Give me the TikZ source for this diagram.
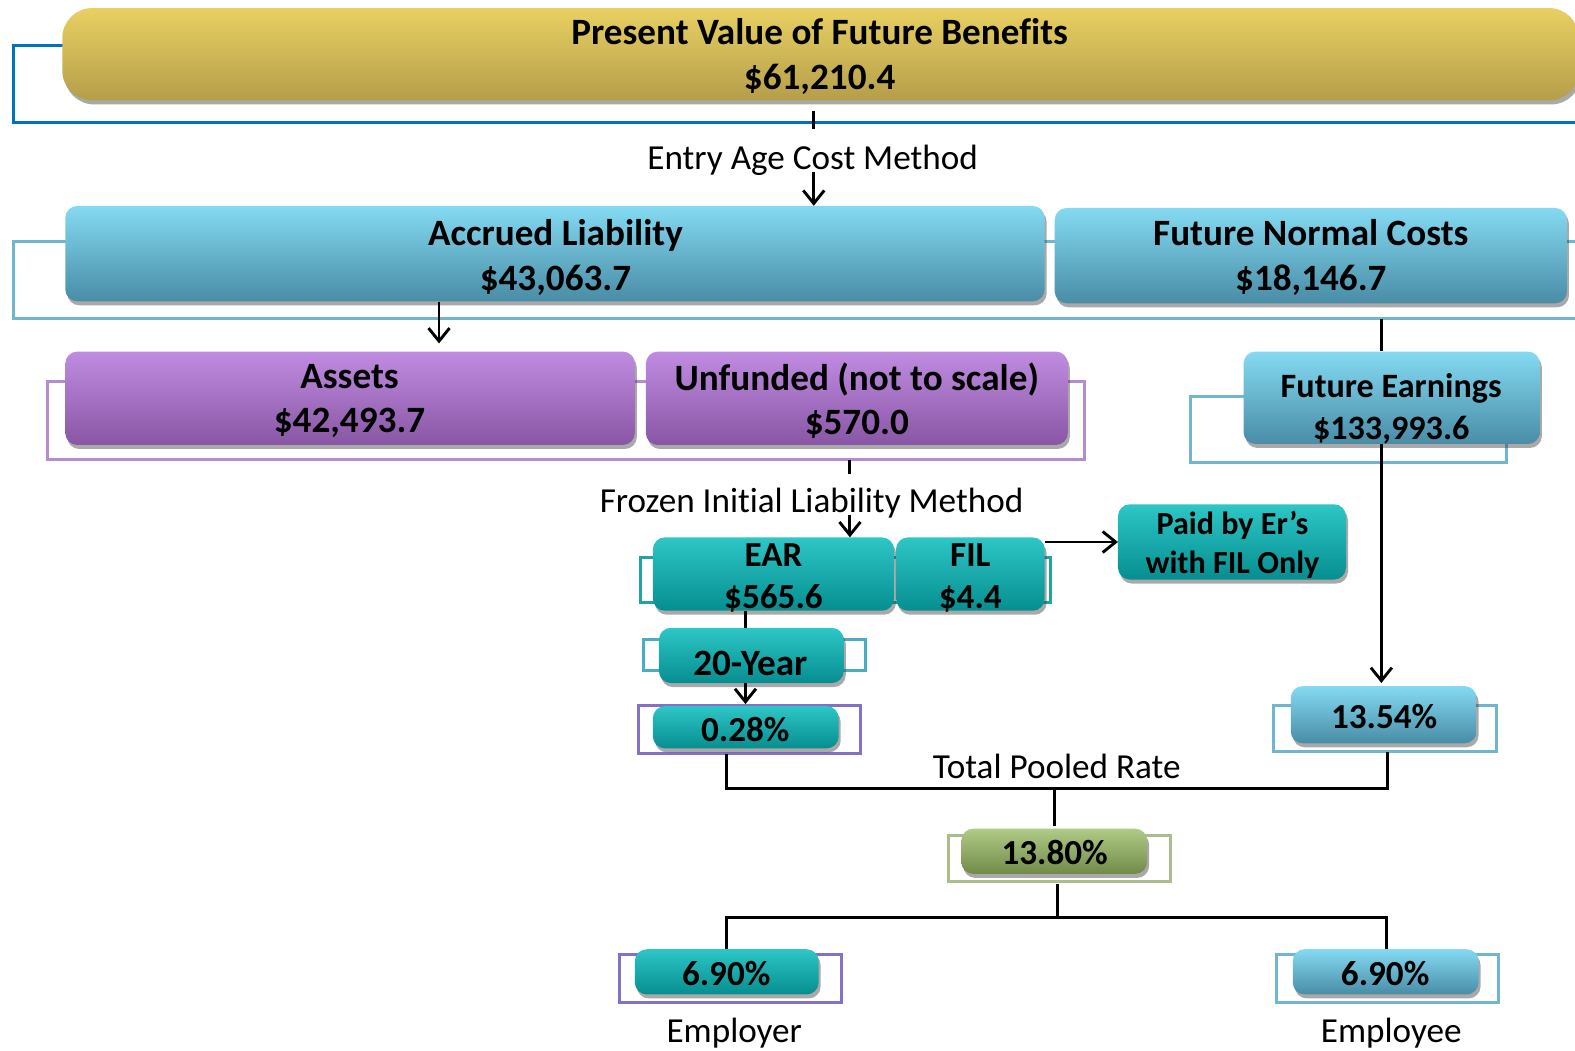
\documentclass[tikz,border=0pt]{standalone}
\usepackage{fontspec}
\setmainfont[Ligatures={NoCommon}]{Carlito}
\usetikzlibrary{shadows,arrows.meta}
\definecolor{goldA}{HTML}{E8D062}
\definecolor{goldM}{HTML}{D6BD57}
\definecolor{goldB}{HTML}{B59E4A}
\definecolor{blueA}{HTML}{84DAF2}
\definecolor{blueM}{HTML}{5EB4D3}
\definecolor{blueB}{HTML}{498CA6}
\definecolor{purA}{HTML}{C08CE2}
\definecolor{purM}{HTML}{A56EC6}
\definecolor{purB}{HTML}{8856A4}
\definecolor{tealA}{HTML}{2EC6C6}
\definecolor{tealM}{HTML}{0AA6A6}
\definecolor{tealB}{HTML}{068E90}
\definecolor{grnA}{HTML}{B0CB86}
\definecolor{grnM}{HTML}{97B16B}
\definecolor{grnB}{HTML}{718A49}
\definecolor{brkDark}{HTML}{0070C0}
\definecolor{brkLight}{HTML}{70B6D0}
\definecolor{brkSky}{HTML}{4BACC6}
\definecolor{brkPur}{HTML}{B58CCF}
\definecolor{brkTeal}{HTML}{1EA4A4}
\definecolor{brkViolet}{HTML}{8470C8}
\definecolor{brkGrn}{HTML}{A8BF8C}
\tikzset{
  bx/.style={rounded corners=12pt, align=center, inner sep=0pt,
    drop shadow={shadow xshift=2pt, shadow yshift=-4pt, opacity=0.45, fill=black!75}},
  goldbx/.style={bx, top color=goldA, middle color=goldM, bottom color=goldB, rounded corners=30pt},
  bluebx/.style={bx, top color=blueA, middle color=blueM, bottom color=blueB},
  purbx/.style={bx, top color=purA, middle color=purM, bottom color=purB},
  tealbx/.style={bx, top color=tealA, middle color=tealM, bottom color=tealB},
  grnbx/.style={bx, top color=grnA, middle color=grnM, bottom color=grnB},
  txt/.style={align=center, inner sep=0pt},
  brk/.style={line width=3pt},
  con/.style={line width=2.9pt, black},
  arr/.style={con, -{Straight Barb[length=13pt,width=21pt]}},
  lbl/.style={font=\fontsize{35}{40}\selectfont, inner sep=0pt},
}
\begin{document}
\begin{tikzpicture}[x=1pt,y=-1pt,scale=1.00446,transform shape]
\useasboundingbox (0,0) rectangle (1568,1046);
% brackets
\draw[brk, brkDark] (13,45) rectangle (1590,122);
\draw[brk, brkLight] (13,240) rectangle (1590,317);
\draw[brk, brkPur] (47,380) rectangle (1080,457);
\draw[brk, brkLight] (1185,395) rectangle (1500,460);
\draw[brk, brkTeal] (638,555) rectangle (1046,600);
\draw[brk, brkSky] (641,637) rectangle (862,668);
\draw[brk, brkViolet] (636,702) rectangle (857,750);
\draw[brk, brkLight] (1268,702) rectangle (1490,748);
\draw[brk, brkGrn] (944,832) rectangle (1165,878);
\draw[brk, brkViolet] (617,950) rectangle (838,998);
\draw[brk, brkLight] (1271,950) rectangle (1492,998);
% boxes
\node[goldbx, minimum width=1510pt, minimum height=92pt] (pvfb) at (817,54) {};
\node[txt, font=\bfseries\fontsize{37}{45}\selectfont] (pvfb_t) at (816,56) {Present Value of Future Benefits\\\$61,210.4};
\node[bluebx, minimum width=975pt, minimum height=95pt] (al) at (552.5,252.5) {};
\node[txt, font=\bfseries\fontsize{37}{45}\selectfont] (al_t) at (553,256) {Accrued Liability\\\$43,063.7};
\node[bluebx, minimum width=510pt, minimum height=95pt] (fnc) at (1305,254.5) {};
\node[txt, font=\bfseries\fontsize{37}{45}\selectfont] (fnc_t) at (1305,256) {Future Normal Costs\\\$18,146.7};
\node[purbx, minimum width=567pt, minimum height=93pt] (assets) at (348.5,396.5) {};
\node[txt, font=\bfseries\fontsize{37}{44}\selectfont] (assets_t) at (348,399) {Assets\\\$42,493.7};
\node[purbx, minimum width=420pt, minimum height=93pt] (unf) at (853,396.5) {};
\node[txt, font=\bfseries\fontsize{37}{44}\selectfont] (unf_t) at (853,399) {Unfunded (not to scale)\\\$570.0};
\node[bluebx, minimum width=295pt, minimum height=92pt] (fe) at (1385.5,396) {};
\node[txt, font=\bfseries\fontsize{34}{41}\selectfont] (fe_t) at (1385,407) {Future Earnings\\\$133,993.6};
\node[tealbx, minimum width=240pt, minimum height=73pt] (ear) at (770,571.5) {};
\node[txt, font=\bfseries\fontsize{35}{42}\selectfont] (ear_t) at (770,575) {EAR\\\$565.6};
\node[tealbx, minimum width=148pt, minimum height=73pt] (fil) at (966,571.5) {};
\node[txt, font=\bfseries\fontsize{35}{42}\selectfont] (fil_t) at (966,575) {FIL\\\$4.4};
\node[tealbx, minimum width=227pt, minimum height=75pt] (paid) at (1226.5,539.5) {};
\node[txt, font=\bfseries\fontsize{32}{39}\selectfont] (paid_t) at (1227,542) {Paid by Er’s\\with FIL Only};
\node[tealbx, minimum width=184pt, minimum height=55pt] (yr) at (748,652.5) {};
\node[txt, font=\bfseries\fontsize{37}{40}\selectfont] (yr_t) at (747,660) {20-Year};
\node[tealbx, minimum width=185pt, minimum height=42pt] (p028) at (742.5,724) {};
\node[txt, font=\bfseries\fontsize{35}{40}\selectfont] (p028_t) at (742,726) {0.28\%};
\node[bluebx, minimum width=185pt, minimum height=57pt] (p1354) at (1377.5,711.5) {};
\node[txt, font=\bfseries\fontsize{35}{40}\selectfont] (p1354_t) at (1378,713) {13.54\%};
\node[grnbx, minimum width=185pt, minimum height=45pt] (p1380) at (1049.5,847.5) {};
\node[txt, font=\bfseries\fontsize{35}{40}\selectfont] (p1380_t) at (1050,849) {13.80\%};
\node[tealbx, minimum width=183pt, minimum height=45pt] (er) at (723.5,967.5) {};
\node[txt, font=\bfseries\fontsize{35}{40}\selectfont] (er_t) at (723,969) {6.90\%};
\node[bluebx, minimum width=185pt, minimum height=45pt] (ee) at (1379.5,967.5) {};
\node[txt, font=\bfseries\fontsize{35}{40}\selectfont] (ee_t) at (1379,969) {6.90\%};
% labels
\node[lbl] (eac) at (809,160) {Entry Age Cost Method};
\node[lbl] (fil_lbl) at (808,501) {Frozen Initial Liability Method};
\node[lbl] (tpr) at (1052,763) {Total Pooled Rate};
\node[lbl] (erl) at (731,1029) {Employer};
\node[lbl] (eel) at (1385,1029) {Employee};
% coordinates
\coordinate (c437) at (437,0);
\coordinate (c846) at (846,0);
\coordinate (c810) at (810,0);
\coordinate (c1375) at (1375,0);
\coordinate (c742) at (742,0);
\coordinate (j1) at (723,785);
\coordinate (j2) at (1381,785);
\coordinate (j3) at (1050,785);
\coordinate (j4) at (1053,913);
\coordinate (j5) at (723,913);
\coordinate (j6) at (1380,913);
% connectors
\draw[con, shorten <=10pt, shorten >=16pt] (pvfb.south -| c810) -- (eac.north -| c810);
\draw[arr, shorten <=-4pt] (eac.south -| c810) -- (al.north -| c810);
\draw[arr, shorten >=8pt] (al.south -| c437) -- (assets.north -| c437);
\draw[con, shorten <=15pt, shorten >=14pt] (unf.south -| c846) -- (fil_lbl.north -| c846);
\draw[arr, shorten <=-4pt] (fil_lbl.south -| c846) -- (ear.north -| c846);
\draw[con, shorten <=15pt] (fnc.south -| c1375) -- (fe.north -| c1375);
\draw[arr, shorten >=3pt] (fe.south -| c1375) -- (p1354.north -| c1375);
\draw[arr] (fil.east |- paid.west) -- (paid.west);
\draw[con] (ear.south -| c742) -- (yr.north -| c742);
\draw[arr, shorten >=2pt] (yr.south -| c742) -- (p028.north -| c742);
\draw[con, shorten <=5pt, shorten >=8pt] (p028.south -| j1) -- (j1) -- (j2) -- (p1354.south -| j2);
\draw[con, shorten >=3pt] (j3) -- (p1380.north -| j3);
\draw[con, shorten <=10pt] (p1380.south -| j4) -- (j4);
\draw[con] (er.north -| j5) -- (j5) -- (j6) -- (ee.north -| j6);
\end{tikzpicture}
\end{document}
